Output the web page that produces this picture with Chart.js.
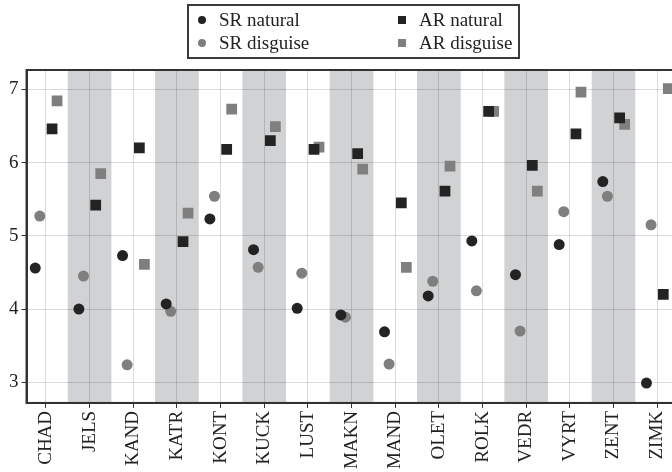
<!DOCTYPE html>
<html>
<head>
<meta charset="utf-8">
<script src="https://cdn.jsdelivr.net/npm/chart.js@4"></script>
<style>
  html, body { margin: 0; padding: 0; background: #fff; overflow: hidden; }
  #wrap { position: relative; width: 700px; height: 472px; }
  #legend {
    position: absolute; left: 187px; top: 4px; width: 329px; height: 51px;
    border: 2px solid #3a3a3a; font-family: "Liberation Serif", serif; font-size: 19px; color: #222;
  }
  #legend .item { position: absolute; white-space: nowrap; line-height: 22px; }
  #legend .mark { position: absolute; top: 7px; width: 8px; height: 8px; }
</style>
</head>
<body>
<div id="wrap">
  <canvas id="chart"></canvas>
  <div id="legend"></div>
</div>
<script>
const categories = ['CHAD', 'JELS', 'KAND', 'KATR', 'KONT', 'KUCK', 'LUST', 'MAKN', 'MAND', 'OLET', 'ROLK', 'VEDR', 'VYRT', 'ZENT', 'ZIMK'];
const srNatural  = [4.56, 4.00, 4.73, 4.07, 5.23, 4.81, 4.01, 3.92, 3.69, 4.18, 4.93, 4.47, 4.88, 5.74, 2.99];
const srDisguise = [5.27, 4.45, 3.24, 3.97, 5.54, 4.57, 4.49, 3.89, 3.25, 4.38, 4.25, 3.70, 5.33, 5.54, 5.15];
const arNatural  = [6.46, 5.42, 6.20, 4.92, 6.18, 6.30, 6.18, 6.12, 5.45, 5.61, 6.70, 5.96, 6.39, 6.61, 4.20];
const arDisguise = [6.84, 5.85, 4.61, 5.31, 6.73, 6.49, 6.21, 5.91, 4.57, 5.95, 6.70, 5.61, 6.96, 6.52, 7.01];
const yTicks = [3, 4, 5, 6, 7];

const dark = '#232323';
const gray = '#7f7f7f';

const series = [
  { label: 'SR natural',  values: srNatural,  color: dark, style: 'circle', shift: -0.245 },
  { label: 'SR disguise', values: srDisguise, color: gray, style: 'circle', shift: -0.14 },
  { label: 'AR natural',  values: arNatural,  color: dark, style: 'rect',   shift: 0.14 },
  { label: 'AR disguise', values: arDisguise, color: gray, style: 'rect',   shift: 0.255 }
];

// html legend, two columns
const legend = document.getElementById('legend');
series.forEach((s, i) => {
  const col = s.style === 'rect' ? 1 : 0;
  const row = i % 2;
  const item = document.createElement('div');
  item.className = 'item';
  item.style.left = (col ? 209 : 9) + 'px';
  item.style.top = (row ? 26 : 3) + 'px';
  const mark = document.createElement('span');
  mark.className = 'mark';
  mark.style.left = '0px';
  mark.style.background = s.color;
  if (s.style === 'circle') mark.style.borderRadius = '50%';
  const txt = document.createElement('span');
  txt.style.marginLeft = '21px';
  txt.textContent = s.label;
  item.appendChild(mark);
  item.appendChild(txt);
  legend.appendChild(item);
});

// grey bands behind every second category, frame around the plot
const bands = {
  id: 'bands',
  beforeDraw(chart) {
    const { ctx, chartArea, scales } = chart;
    ctx.save();
    ctx.beginPath();
    ctx.rect(chartArea.left, chartArea.top, chartArea.right - chartArea.left, chartArea.bottom - chartArea.top);
    ctx.clip();
    ctx.fillStyle = '#d1d2d4';
    categories.forEach((c, i) => {
      if (i % 2 === 0) return;
      const x0 = scales.x.getPixelForValue(i - 0.5);
      const x1 = scales.x.getPixelForValue(i + 0.5);
      ctx.fillRect(x0, chartArea.top, x1 - x0, chartArea.bottom - chartArea.top);
    });
    ctx.restore();
  },
  afterDraw(chart) {
    const { ctx, chartArea } = chart;
    ctx.save();
    ctx.strokeStyle = '#333';
    ctx.lineWidth = 2;
    ctx.strokeRect(chartArea.left, chartArea.top, chartArea.right - chartArea.left, chartArea.bottom - chartArea.top);
    ctx.restore();
  }
};

const font = { family: '"Liberation Serif", serif', size: 19 };

new Chart(document.getElementById('chart'), {
  type: 'scatter',
  data: {
    datasets: series.map(s => ({
      label: s.label,
      data: s.values.map((v, i) => ({ x: i + s.shift, y: v })),
      backgroundColor: s.color,
      borderColor: s.color,
      borderWidth: 0,
      pointStyle: s.style,
      pointRadius: s.style === 'rect' ? 7.6 : 5.5,
      pointHoverRadius: s.style === 'rect' ? 7.6 : 5.5
    }))
  },
  options: {
    responsive: true,
    maintainAspectRatio: false,
    animation: false,
    layout: { padding: { top: 70, left: 6, right: 21, bottom: 0 } },
    plugins: { legend: { display: false }, tooltip: { enabled: false } },
    scales: {
      x: {
        type: 'linear',
        min: -0.445,
        max: 14.5,
        afterBuildTicks: scale => { scale.ticks = categories.map((c, i) => ({ value: i })); },
        ticks: {
          callback: v => categories[v],
          autoSkip: false,
          minRotation: 90,
          maxRotation: 90,
          color: '#222',
          font: font,
          padding: 3
        },
        grid: { color: 'rgba(0,0,0,0.14)', tickColor: '#333', tickLength: 5 },
        border: { color: '#333', width: 2 }
      },
      y: {
        min: 2.719,
        max: 7.263,
        afterBuildTicks: scale => { scale.ticks = yTicks.map(v => ({ value: v })); },
        ticks: { color: '#222', font: font, padding: 3 },
        grid: { color: 'rgba(0,0,0,0.14)', tickColor: '#333', tickLength: 5 },
        border: { color: '#333', width: 2 }
      }
    }
  },
  plugins: [bands]
});
</script>
</body>
</html>
